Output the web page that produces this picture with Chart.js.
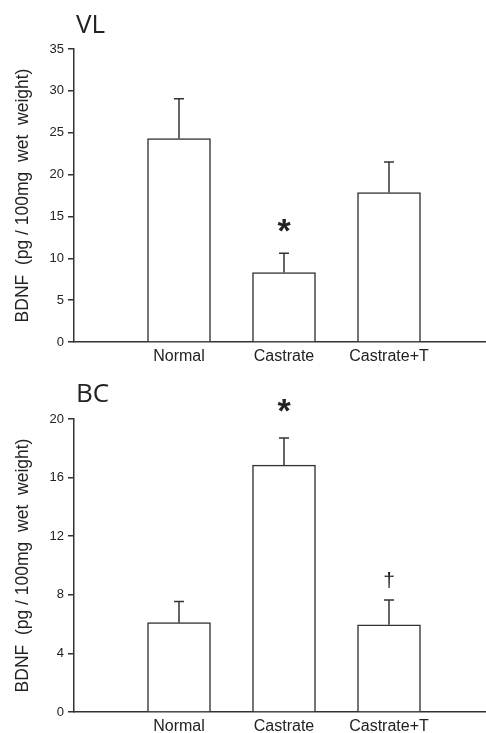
<!DOCTYPE html>
<html>
<head>
<meta charset="utf-8">
<script src="https://cdn.jsdelivr.net/npm/chart.js@4"></script>
<style>
html, body { margin: 0; padding: 0; background: #fff; overflow: hidden; }
canvas { position: absolute; left: 0; display: block; }
</style>
</head>
<body>
<canvas id="vl" width="486" height="366" style="top:0"></canvas>
<canvas id="bc" width="486" height="367" style="top:366px"></canvas>
<script>
// groups on the x axis
const groups = ['Normal', 'Castrate', 'Castrate+T'];
const yTitle = 'BDNF  (pg / 100mg  wet  weight)';

// VL panel: mean and error (SEM) per group
const vlMeans = [24.3, 8.3, 17.85];
const vlErrors = [4.75, 2.3, 3.65];
const vlMarks = ['', '*', ''];
const vlMarkAt = [null, 13.9, null];

// BC panel
const bcMeans = [6.1, 16.85, 5.95];
const bcErrors = [1.45, 1.85, 1.7];
const bcMarks = ['', '*', '\u2020'];
const bcMarkAt = [null, 20.95, 9.0];

const ink = '#333';
const textInk = '#222';
const sans = '"Liberation Sans", Arial, sans-serif';

// draws the error bars, the significance marks and the panel letter
const extras = {
    id: 'extras',
    afterDatasetsDraw(chart, args, opts) {
        const {ctx, chartArea} = chart;
        const x = chart.scales.x;
        const y = chart.scales.y;
        ctx.save();
        ctx.strokeStyle = ink;
        ctx.lineWidth = 1.5;
        opts.means.forEach((m, i) => {
            const px = x.getPixelForValue(i + 1);
            const y0 = y.getPixelForValue(m);
            const y1 = y.getPixelForValue(m + opts.errors[i]);
            ctx.beginPath();
            ctx.moveTo(px, y0);
            ctx.lineTo(px, y1);
            ctx.moveTo(px - 5, y1);
            ctx.lineTo(px + 5, y1);
            ctx.stroke();
        });

        ctx.fillStyle = textInk;
        ctx.textAlign = 'center';
        ctx.textBaseline = 'alphabetic';
        opts.marks.forEach((s, i) => {
            if (!s) return;
            ctx.font = s === '*' ? 'bold 34px ' + sans : '21px ' + sans;
            const mt = ctx.measureText(s);
            const px = x.getPixelForValue(i + 1);
            const py = y.getPixelForValue(opts.markAt[i]);
            ctx.fillText(s, px, py + (mt.actualBoundingBoxAscent - mt.actualBoundingBoxDescent) / 2);
        });

        ctx.font = '26px "Open Sans", sans-serif';
        ctx.textAlign = 'left';
        ctx.fillText(opts.title, chartArea.left + 2, opts.titleBase);
        ctx.restore();
    }
};

function makeChart(id, title, means, errors, marks, markAt, yMax, yStep, top, xHeight, titleBase) {
    return new Chart(document.getElementById(id), {
        type: 'bar',
        data: {
            datasets: [{
                data: means.map((m, i) => ({x: i + 1, y: m})),
                backgroundColor: '#fff',
                borderColor: ink,
                borderWidth: 1.5,
                barThickness: 63
            }]
        },
        options: {
            responsive: false,
            animation: false,
            layout: {padding: {top: top, left: 0, right: 0, bottom: 0}},
            plugins: {
                legend: {display: false},
                tooltip: {enabled: false},
                extras: {title, means, errors, marks, markAt, titleBase}
            },
            scales: {
                x: {
                    type: 'linear',
                    offset: false,
                    min: 0,
                    max: 412 / 105,
                    afterBuildTicks: s => { s.ticks = groups.map((g, i) => ({value: i + 1})); },
                    afterFit: s => { s.height = xHeight; },
                    ticks: {
                        callback: v => groups[v - 1],
                        autoSkip: false,
                        maxRotation: 0,
                        padding: 5,
                        color: textInk,
                        font: {family: sans, size: 16}
                    },
                    grid: {display: false, drawTicks: false},
                    border: {color: ink, width: 1.5}
                },
                y: {
                    min: 0,
                    max: yMax,
                    afterFit: s => { s.width = 74; },
                    ticks: {
                        stepSize: yStep,
                        padding: 4,
                        color: textInk,
                        font: {family: sans, size: 13}
                    },
                    grid: {drawOnChartArea: false, drawTicks: true, tickLength: 6, color: ink, lineWidth: 1.5},
                    border: {color: ink, width: 1.5},
                    title: {
                        display: true,
                        text: yTitle,
                        color: textInk,
                        font: {family: sans, size: 17.5},
                        padding: {top: 13, bottom: 0}
                    }
                }
            }
        },
        plugins: [extras]
    });
}

makeChart('vl', 'VL', vlMeans, vlErrors, vlMarks, vlMarkAt, 35, 5, 49, 24, 33);
makeChart('bc', 'BC', bcMeans, bcErrors, bcMarks, bcMarkAt, 20, 4, 53, 21, 36);
</script>
</body>
</html>
